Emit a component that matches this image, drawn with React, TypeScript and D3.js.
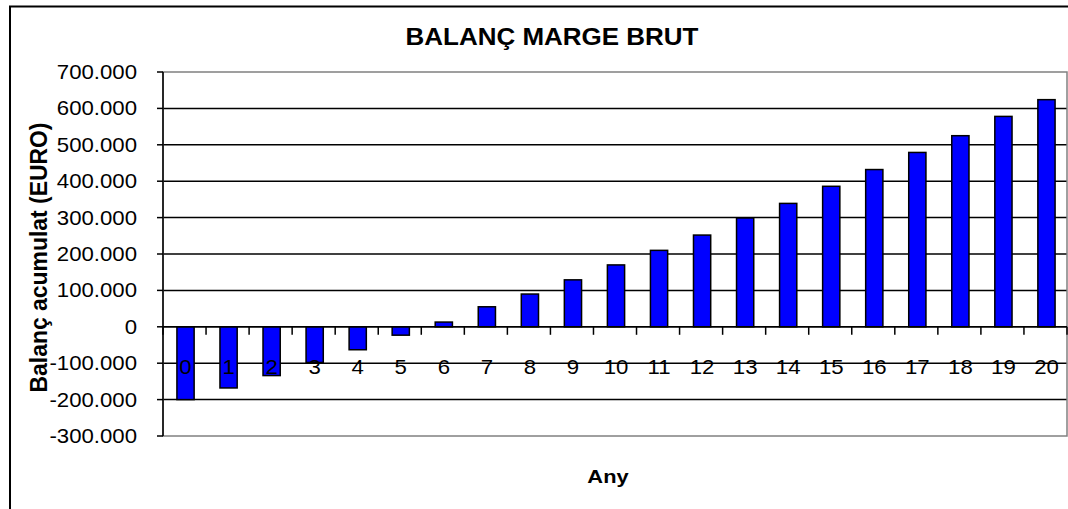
import React from "react";
import * as d3 from "d3";

const years: string[] = ["0","1","2","3","4","5","6","7","8","9","10","11","12","13","14","15","16","17","18","19","20"];
const balance: number[] = [-200000,-168000,-134000,-98000,-63000,-23000,13000,55000,90000,129000,170000,210000,252000,299000,339000,386000,432000,479000,525000,578000,624000];
const yTicks: number[] = [-300000,-200000,-100000,0,100000,200000,300000,400000,500000,600000,700000];
const title = "BALANÇ MARGE BRUT";
const xTitle = "Any";
const yTitle = "Balanç acumulat (EURO)";

const W = 1068, H = 509;
const plot = { left: 163, right: 1067, top: 72, bottom: 436 };
const SX = 1.11;
const FONT = "Arial, 'Liberation Sans', sans-serif";

const locale = d3.formatLocale({ decimal: ",", thousands: ".", grouping: [3], currency: ["", "€"], minus: "-" });
const fmt = locale.format(",.0f");

export default function App() {
  const y = d3.scaleLinear().domain([-300000, 700000]).range([plot.bottom, plot.top]);
  const x = d3.scaleBand<string>().domain(years).range([plot.left, plot.right]).padding(0);
  const bw = x.bandwidth() / 2.5;
  const y0 = y(0);
  return (
    <svg width={W} height={H} style={{ position: "absolute", left: 0, top: 0, background: "#fff" }} fontFamily={FONT}>
      <rect x={0} y={0} width={W} height={H} fill="#fff" />
      <rect x={10} y={6.5} width={1100} height={540} fill="none" stroke="#000" strokeWidth={2} />
      {/* gridlines */}
      {yTicks.filter(t => t !== -300000 && t !== 700000).map(t => (
        <line key={"g" + t} x1={plot.left} x2={plot.right} y1={y(t)} y2={y(t)} stroke="#000" strokeWidth={1.5} />
      ))}
      {/* plot border */}
      <rect x={plot.left} y={plot.top} width={plot.right - plot.left} height={plot.bottom - plot.top} fill="none" stroke="#808080" strokeWidth={1.5} />
      {/* bars */}
      {balance.map((v, i) => {
        const cx = (x(years[i]) as number) + x.bandwidth() / 2 + 1;
        const top = Math.min(y(v), y0);
        const h = Math.abs(y(v) - y0);
        return <rect key={"b" + i} x={cx - bw / 2} y={top} width={bw} height={h} fill="#0000FF" stroke="#000" strokeWidth={1.5} />;
      })}
      {/* y axis */}
      <line x1={plot.left} x2={plot.left} y1={plot.top} y2={plot.bottom} stroke="#000" strokeWidth={1.5} />
      {yTicks.map(t => (
        <line key={"yt" + t} x1={plot.left - 6} x2={plot.left} y1={y(t)} y2={y(t)} stroke="#000" strokeWidth={1.5} />
      ))}
      {yTicks.map(t => (
        <text key={"yl" + t} transform={`translate(137,${y(t) + 7}) scale(${SX},1)`} textAnchor="end" fontSize={20} fill="#000">{fmt(t)}</text>
      ))}
      {/* x axis at zero */}
      <line x1={plot.left} x2={plot.right} y1={y0} y2={y0} stroke="#000" strokeWidth={1.5} />
      {d3.range(years.length + 1).map(k => {
        const xx = plot.left + k * x.bandwidth();
        return <line key={"xt" + k} x1={xx} x2={xx} y1={y0} y2={y0 + 8} stroke="#000" strokeWidth={1.5} />;
      })}
      {years.map(yr => (
        <text key={"xl" + yr} transform={`translate(${(x(yr) as number) + x.bandwidth() / 2 + 1},374) scale(${SX},1)`} textAnchor="middle" fontSize={20} fill="#000">{yr}</text>
      ))}
      {/* titles */}
      <text transform={`translate(552,45) scale(1.13,1)`} textAnchor="middle" fontSize={23} fontWeight="bold" fill="#000">{title}</text>
      <text transform={`translate(608,483) scale(1.15,1)`} textAnchor="middle" fontSize={19} fontWeight="bold" fill="#000">{xTitle}</text>
      <text transform={`translate(47,257.5) scale(${SX},1) rotate(-90)`} textAnchor="middle" fontSize={21} fontWeight="bold" fill="#000" textLength={270} lengthAdjust="spacingAndGlyphs">{yTitle}</text>
    </svg>
  );
}
